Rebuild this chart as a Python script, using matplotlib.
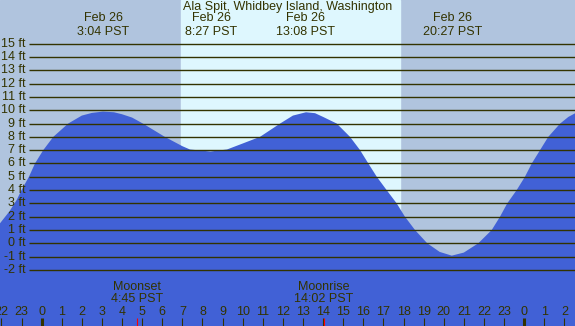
import numpy as np
import matplotlib.pyplot as plt

plt.rcParams['font.family'] = ['Liberation Sans', 'DejaVu Sans']

TITLE = "Ala Spit, Whidbey Island, Washington"

# tide height (ft), hours since midnight Feb 26
tide_hours = [-2.07, -1.6, -1.24, -1.0, -0.63, -0.33, 0.08, 0.58, 1.32, 2.0, 2.5, 3.05,
              3.6, 4.0, 4.5, 5.04, 6.13, 7.0, 7.38, 8.4, 9.22, 10.0, 10.86, 11.86,
              12.5, 13.15, 13.6, 14.0, 14.68, 15.34, 15.84, 16.25, 16.67, 17.16,
              17.66, 18.07, 18.57, 19.18, 19.8, 20.4, 21.0, 21.72, 22.39, 22.8,
              23.16, 23.63, 24.04, 24.38, 24.79, 25.2, 25.79, 26.2, 26.53]
tide_ft = [1.5, 2.4, 3.26, 4.0, 5.0, 6.0, 7.0, 8.0, 9.0, 9.6, 9.8, 9.9,
           9.85, 9.7, 9.45, 9.0, 8.0, 7.3, 7.05, 6.9, 7.05, 7.5, 8.0, 9.0,
           9.6, 9.85, 9.78, 9.5, 9.0, 8.0, 7.0, 6.0, 5.0, 4.0,
           3.0, 2.0, 1.0, 0.0, -0.65, -0.93, -0.7, 0.0, 1.0, 2.0,
           3.0, 4.0, 5.0, 6.0, 7.0, 8.0, 9.0, 9.5, 9.77]

# high / low tide events
event_hours = [3.07, 8.45, 13.13, 20.45]
event_labels = ["3:04 PST", "8:27 PST", "13:08 PST", "20:27 PST"]

# moon events
moon_hours = [4.75, 14.03]
moon_names = ["Moonset", "Moonrise"]
moon_times = ["4:45 PST", "14:02 PST"]

sunrise, sunset = 6.93, 17.83
levels = list(range(-2, 16))

X0, X1 = -2.07, 26.53
Y0, Y1 = -6.22, 18.29
NIGHT = "#B0C4DE"
DAY = "#DEF7FE"
WATER = "#4161D6"
INK = "#333300"
FS = 9

fig = plt.figure(figsize=(5.75, 3.26), dpi=100)
ax = fig.add_axes([0, 0, 1, 1])
ax.set_xlim(X0, X1)
ax.set_ylim(Y0, Y1)
ax.axis("off")

ax.axvspan(X0, X1, color=NIGHT, zorder=0)
ax.axvspan(sunrise, sunset, color=DAY, zorder=0)
ax.fill_between(tide_hours, tide_ft, Y0 - 1, color=WATER, lw=0, zorder=1)

ax.hlines(levels, -0.63, X1, color=INK, lw=1.0, zorder=2)
for lv in levels:
    ax.text(-0.8, lv, f"{lv} ft", ha="right", va="center", fontsize=FS, color=INK, zorder=3)

ax.text(12.24, 17.73, TITLE, ha="center", va="center", fontsize=FS, color=INK)
for h, lab in zip(event_hours, event_labels):
    ax.text(h, 16.9, "Feb 26", ha="center", va="center", fontsize=FS, color=INK)
    ax.text(h, 15.92, lab, ha="center", va="center", fontsize=FS, color=INK)

for h, nm, tm in zip(moon_hours, moon_names, moon_times):
    ax.text(h, -3.31, nm, ha="center", va="center", fontsize=FS, color=INK)
    ax.text(h, -4.21, tm, ha="center", va="center", fontsize=FS, color=INK)

# hour axis along the bottom
hours = np.arange(-2, 27)
tick_top = -5.64
for h in hours:
    lw = 2.2 if h % 24 == 0 else 0.8
    ax.vlines(h, Y0, tick_top, color=INK, lw=lw, zorder=3)
    ax.text(h, -5.14, str(h % 24), ha="center", va="center", fontsize=FS, color=INK)
ax.vlines(moon_hours, Y0, tick_top, color="red", lw=0.8, zorder=3)

fig.savefig("out.png", dpi=100)
plt.close(fig)
